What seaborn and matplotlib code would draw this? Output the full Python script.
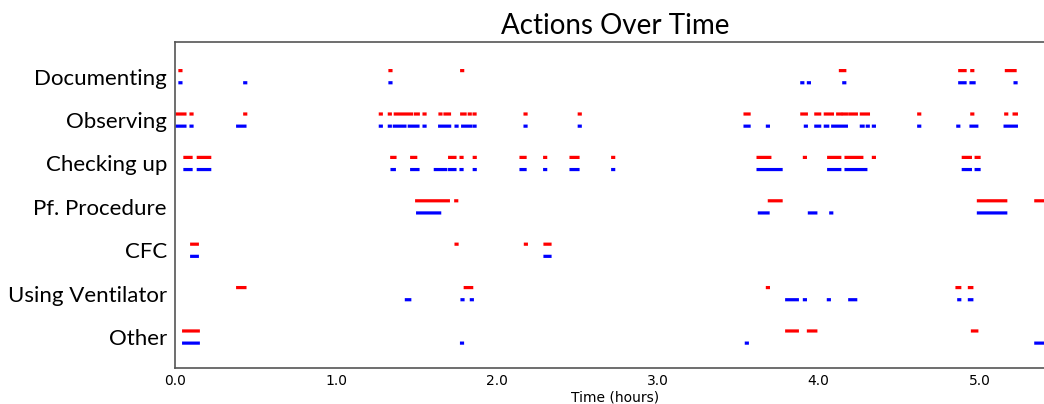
import matplotlib
matplotlib.use("Agg")
import matplotlib.pyplot as plt
import seaborn as sns
import pandas as pd

# ---- data (hours); each entry is (start, end); dots have start == end ----
categories = ["Documenting", "Observing", "Checking up", "Pf. Procedure",
              "CFC", "Using Ventilator", "Other"]

doc_red = [(0.029, 0.029), (1.335, 1.335), (1.781, 1.781), (4.136, 4.163),
           (4.878, 4.911), (4.953, 4.953), (5.168, 5.222)]
doc_blue = [(0.029, 0.029), (0.432, 0.432), (1.335, 1.335), (3.896, 3.896),
            (3.937, 3.937), (4.157, 4.157), (4.878, 4.911), (4.948, 4.967),
            (5.222, 5.222)]

obs_red = [(0.011, 0.060), (0.098, 0.098), (0.432, 0.432), (1.275, 1.275),
           (1.331, 1.331), (1.368, 1.469), (1.493, 1.511), (1.547, 1.547),
           (1.646, 1.646), (1.677, 1.705), (1.781, 1.802), (1.828, 1.828),
           (1.858, 1.858), (2.175, 2.175), (2.512, 2.512), (3.543, 3.568),
           (3.896, 3.924), (3.983, 4.007), (4.042, 4.086), (4.119, 4.138),
           (4.154, 4.173), (4.194, 4.235), (4.266, 4.310), (4.623, 4.623),
           (4.953, 4.953), (5.164, 5.164), (5.216, 5.230)]
obs_blue = [(0.011, 0.060), (0.098, 0.098), (0.388, 0.433), (1.275, 1.275),
            (1.331, 1.331), (1.362, 1.428), (1.455, 1.509), (1.547, 1.547),
            (1.644, 1.706), (1.746, 1.746), (1.787, 1.837), (1.858, 1.858),
            (2.175, 2.175), (2.512, 2.512), (3.543, 3.568), (3.682, 3.682),
            (3.918, 3.918), (3.983, 4.007), (4.042, 4.057), (4.088, 4.173),
            (4.266, 4.277), (4.303, 4.303), (4.341, 4.341), (4.623, 4.623),
            (4.866, 4.866), (4.948, 4.984), (5.160, 5.230)]

chk_red = [(0.060, 0.098), (0.143, 0.214), (1.346, 1.366), (1.470, 1.495),
           (1.706, 1.739), (1.777, 1.777), (1.859, 1.859), (2.150, 2.175),
           (2.297, 2.297), (2.461, 2.504), (2.720, 2.720), (3.624, 3.697),
           (3.912, 3.912), (4.063, 4.132), (4.171, 4.269), (4.341, 4.341),
           (4.900, 4.944), (4.980, 4.998)]
chk_blue = [(0.060, 0.098), (0.143, 0.214), (1.348, 1.362), (1.470, 1.509),
            (1.617, 1.682), (1.706, 1.739), (1.777, 1.777), (1.859, 1.859),
            (2.150, 2.175), (2.297, 2.297), (2.461, 2.504), (2.720, 2.720),
            (3.624, 3.767), (4.063, 4.132), (4.171, 4.294), (4.900, 4.944),
            (4.980, 4.998)]

pf_red = [(1.501, 1.698), (1.744, 1.744), (3.694, 3.767), (4.994, 5.164),
          (5.351, 5.420)]
pf_blue = [(1.507, 1.644), (3.632, 3.686), (3.943, 3.983), (4.076, 4.076),
           (4.994, 5.164)]

cfc_red = [(0.102, 0.137), (1.746, 1.746), (2.177, 2.177), (2.299, 2.330)]
cfc_blue = [(0.102, 0.137), (2.299, 2.330)]

vent_red = [(0.388, 0.433), (1.803, 1.843), (3.682, 3.682), (4.861, 4.878),
            (4.938, 4.953)]
vent_blue = [(1.437, 1.458), (1.783, 1.783), (1.841, 1.841), (3.802, 3.868),
             (3.912, 3.912), (4.061, 4.061), (4.194, 4.231), (4.872, 4.872),
             (4.938, 4.953)]

oth_red = [(0.052, 0.143), (3.802, 3.868), (3.937, 3.983), (4.957, 4.984)]
oth_blue = [(0.052, 0.143), (1.780, 1.780), (3.551, 3.551), (5.351, 5.420)]

series = {
    "Documenting": (doc_red, doc_blue),
    "Observing": (obs_red, obs_blue),
    "Checking up": (chk_red, chk_blue),
    "Pf. Procedure": (pf_red, pf_blue),
    "CFC": (cfc_red, cfc_blue),
    "Using Ventilator": (vent_red, vent_blue),
    "Other": (oth_red, oth_blue),
}

# ---- build long table ----
MIN_LEN = 0.006
OFFSET = 0.14
n = len(categories)
rows = []
seg = 0
for i, cat in enumerate(categories):
    ypos = n - 1 - i
    red, blue = series[cat]
    for who, segs, dy in (("red", red, OFFSET), ("blue", blue, -OFFSET)):
        for s, e in segs:
            e = max(e, s + MIN_LEN)
            rows.append({"t": s, "y": ypos + dy, "seg": seg, "who": who})
            rows.append({"t": e, "y": ypos + dy, "seg": seg, "who": who})
            seg += 1
df = pd.DataFrame(rows)

sns.set_style("white")
plt.rcParams["lines.solid_capstyle"] = "projecting"
plt.rcParams["font.family"] = ["DejaVu Sans"]
plt.rcParams["text.color"] = "black"
plt.rcParams["axes.labelcolor"] = "black"

fig = plt.figure(figsize=(10.44, 4.04), dpi=100)
ax = fig.add_axes([0.1679, 0.0884, 0.8426, 0.8077])

sns.lineplot(data=df, x="t", y="y", units="seg", hue="who", estimator=None,
             sort=False, palette={"red": "#ff0000", "blue": "#0000ff"},
             linewidth=2.3, legend=False, ax=ax, snap=False)

ax.set_xlim(0, 5.47)
ax.set_ylim(-0.72, 6.80)
ax.set_xticks([0, 1, 2, 3, 4, 5])
ax.set_xticklabels(["0.0", "1.0", "2.0", "3.0", "4.0", "5.0"], fontsize=10)
ax.set_yticks(range(n))
ax.set_yticklabels(categories[::-1], fontsize=16, family=["Lato", "DejaVu Sans"])
ax.set_xlabel("Time (hours)", fontsize=10, labelpad=2, color="black")
ax.set_ylabel("")
ax.set_title("Actions Over Time", fontsize=20, family=["Lato", "DejaVu Sans"],
             pad=6, color="black")

ax.tick_params(axis="both", direction="in", length=4, width=0.8, color="#888888",
               labelcolor="black")
ax.tick_params(axis="y", pad=6)
ax.tick_params(axis="x", pad=4)
for sp in ax.spines.values():
    sp.set_visible(True)
    sp.set_color("#555555")
    sp.set_linewidth(1.2)

fig.savefig("out.png", dpi=100)
